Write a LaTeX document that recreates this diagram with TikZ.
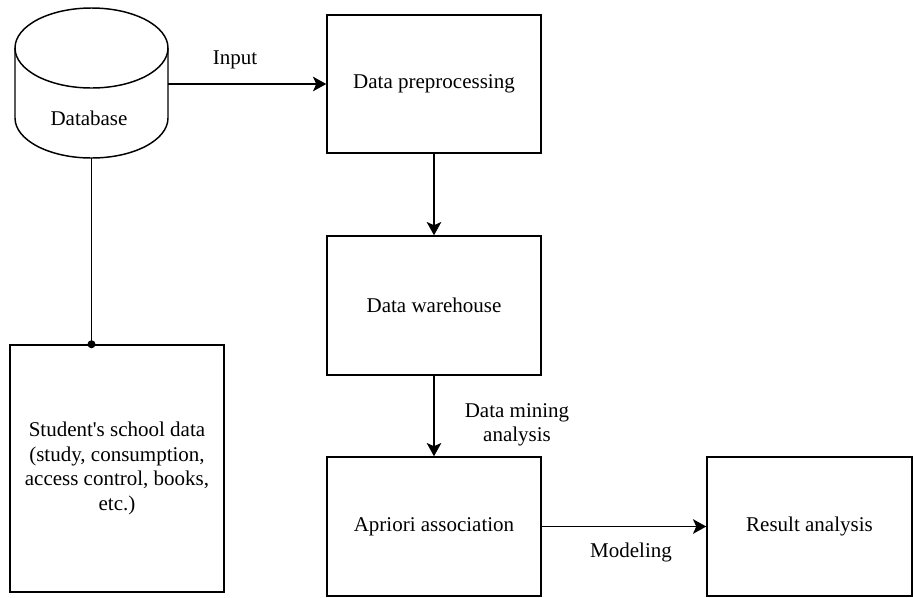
\documentclass[tikz,border=0pt]{standalone}
\usepackage{fontspec}
\setmainfont{Liberation Serif}
\usetikzlibrary{arrows.meta}
\begin{document}
\begin{tikzpicture}[x=0.75pt,y=-0.75pt,
  every node/.style={font=\fontsize{15.75pt}{18.4pt}\selectfont},
  box/.style={draw, line width=1.1pt, rectangle, inner sep=0pt, align=center},
  conn/.style={line width=1.1pt, -{Stealth[length=10pt,width=11pt,inset=2.5pt]}},
  plain/.style={line width=1.1pt},
  lbl/.style={inner sep=0pt, align=center}]
\useasboundingbox (0,0) rectangle (913,597);
% cylinder
\draw[plain, line join=round] (15,48) -- (15,118) arc[start angle=180, end angle=360, x radius=57.375pt, y radius=30pt] -- (168,48);
\draw[plain] (91.5,48) ellipse [x radius=57.375pt, y radius=30pt];
\node[lbl] (db) at (89,118) {Database};
\coordinate (dbr) at (168,84);
\coordinate (dbb) at (91.5,158);
% boxes
\node[box, minimum width=160.5pt, minimum height=103.5pt] (pre) at (434,84) {Data preprocessing};
\node[box, minimum width=160.5pt, minimum height=104.25pt] (wh) at (434,305.5) {Data warehouse};
\node[box, minimum width=160.5pt, minimum height=104.25pt] (ap) at (434,526.5) {Apriori association};
\node[box, minimum width=153.75pt, minimum height=104.25pt] (res) at (809.5,526.5) {Result analysis};
\node[box, minimum width=160.5pt, minimum height=185.25pt] (stu) at (117,468.5) {Student\textquotesingle s school data\\(study, consumption,\\access control, books,\\etc.)};
% connectors
\draw[conn] (dbr) -- (dbr -| pre.west);
\draw[conn] (pre.south) -- (wh.north);
\draw[conn] (wh.south) -- (ap.north);
\draw[conn] (ap.east) -- (res.west);
\draw[plain] (dbb) -- (dbb |- stu.north);
\fill (dbb |- stu.north) circle (3pt);
% labels
\node[lbl] (lin) at (235,60) {Input};
\node[lbl] (ldm) at (517,425) {Data mining\\analysis};
\node[lbl] (lmod) at (631,552) {Modeling};
\end{tikzpicture}
\end{document}
